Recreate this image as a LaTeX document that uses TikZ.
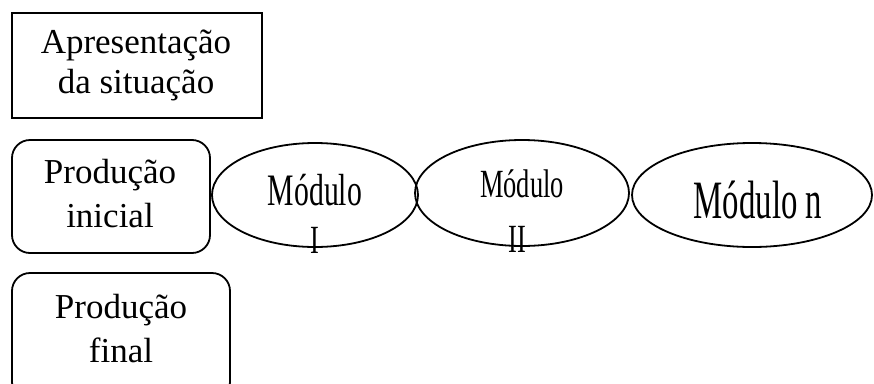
\documentclass[tikz,border=0pt]{standalone}
\usepackage{fontspec}
\setmainfont{Liberation Serif}
\newfontfamily\narrowfont[FakeStretch=0.66]{Liberation Serif}
\usetikzlibrary{shapes.geometric}
\tikzset{
  boxtext/.style={align=center, inner sep=0pt, anchor=base},
  modbox/.style={draw, line width=1.8pt, ellipse, inner sep=0pt},
  roundbox/.style={draw, line width=1.8pt, rounded corners=18pt},
  modtext/.style={inner sep=0pt, anchor=base},
}
\begin{document}
\begin{tikzpicture}[x=1pt,y=-1pt]
\useasboundingbox (0,0) rectangle (874,383);
\clip (0,0) rectangle (874,383);
% Apresentacao
\draw[line width=2.6pt] (12,13) rectangle (262,118);
\node[boxtext, font=\fontsize{35}{40}\selectfont] (apr) at (136,93) {Apresentação\\da situação};
% Producao inicial
\draw[roundbox] (12,140) rectangle (210,253);
\node[boxtext, font=\fontsize{35}{44}\selectfont] (pini) at (110,227) {Produção\\inicial};
% Producao final
\draw[roundbox] (12,273) rectangle (230,400);
\node[boxtext, font=\fontsize{35}{44}\selectfont] (pfin) at (121,362) {Produção\\final};
% Modules
\node[modbox, minimum width=206pt, minimum height=104pt] (m1) at (315,195) {};
\node[modtext, font=\fontsize{45}{45}\selectfont\narrowfont] (m1t) at (315,205) {Módulo};
\node[modtext, font=\fontsize{40}{40}\selectfont\narrowfont] (m1i) at (315,253) {I};
\node[modbox, minimum width=214pt, minimum height=106pt] (m2) at (522,193) {};
\node[modtext, font=\fontsize{40}{40}\selectfont\narrowfont] (m2t) at (522,197) {Módulo};
\node[modtext, font=\fontsize{40}{40}\selectfont\narrowfont] (m2i) at (517,252) {II};
\node[modbox, minimum width=240pt, minimum height=104pt] (mn) at (752,195) {};
\node[modtext, font=\fontsize{54}{54}\selectfont\narrowfont, xscale=0.92] (mnt) at (758,218) {Módulo n};
\end{tikzpicture}
\end{document}
